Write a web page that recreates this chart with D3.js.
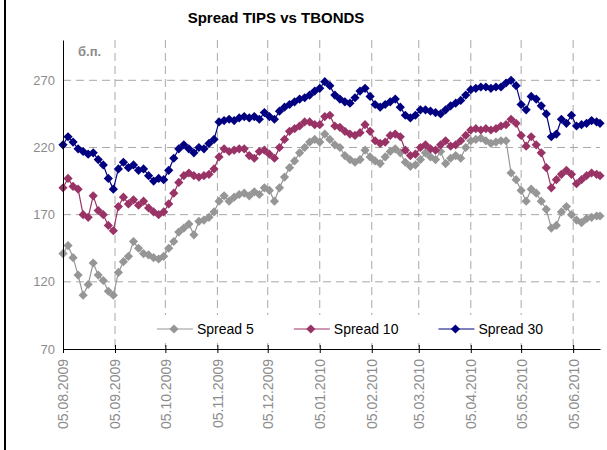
<!DOCTYPE html>
<html>
<head>
<meta charset="utf-8">
<script src="https://cdn.jsdelivr.net/npm/d3@7"></script>
<style>
body { margin: 0; background: #fff; }
svg { display: block; font-family: Arial, "Liberation Sans", sans-serif; }
</style>
</head>
<body>
<script>
// observation dates (roughly every third day)
var dates = [
  "05.08.2009","08.08.2009","11.08.2009","14.08.2009","17.08.2009","20.08.2009","23.08.2009","26.08.2009","29.08.2009",
  "01.09.2009","04.09.2009","07.09.2009","10.09.2009","13.09.2009","16.09.2009","19.09.2009","22.09.2009","25.09.2009","28.09.2009",
  "01.10.2009","04.10.2009","07.10.2009","10.10.2009","13.10.2009","16.10.2009","19.10.2009","22.10.2009","25.10.2009","28.10.2009","31.10.2009",
  "03.11.2009","06.11.2009","09.11.2009","12.11.2009","15.11.2009","18.11.2009","21.11.2009","24.11.2009","27.11.2009","30.11.2009",
  "03.12.2009","06.12.2009","09.12.2009","12.12.2009","15.12.2009","18.12.2009","21.12.2009","24.12.2009","27.12.2009","30.12.2009",
  "02.01.2010","05.01.2010","08.01.2010","11.01.2010","14.01.2010","17.01.2010","20.01.2010","23.01.2010","26.01.2010","29.01.2010",
  "01.02.2010","04.02.2010","07.02.2010","10.02.2010","13.02.2010","16.02.2010","19.02.2010","22.02.2010","25.02.2010","28.02.2010",
  "03.03.2010","06.03.2010","09.03.2010","12.03.2010","15.03.2010","18.03.2010","21.03.2010","24.03.2010","27.03.2010","30.03.2010",
  "02.04.2010","05.04.2010","08.04.2010","11.04.2010","14.04.2010","17.04.2010","20.04.2010","23.04.2010","26.04.2010","29.04.2010",
  "02.05.2010","05.05.2010","08.05.2010","11.05.2010","14.05.2010","17.05.2010","20.05.2010","23.05.2010","26.05.2010","29.05.2010",
  "01.06.2010","04.06.2010","07.06.2010","10.06.2010","13.06.2010","16.06.2010","19.06.2010","21.06.2010"
];

var spread5 = [
  141,147,138,125,110,118,134,125,121,113,
  110,127,135,139,150,145,141,140,138,137,
  139,145,150,157,160,163,155,165,166,168,
  172,180,184,180,183,185,186,184,187,185,
  190,188,180,190,198,205,210,216,220,224,
  226,224,230,226,222,220,214,211,209,211,
  218,213,210,208,213,217,219,216,209,206,
  207,211,216,213,211,217,208,212,214,212,
  220,225,226,227,225,223,224,225,225,201,
  196,188,180,189,186,180,174,160,162,172,
  176,170,166,164,167,168,169,169
];

var spread10 = [
  190,197,191,189,170,168,184,173,170,162,
  158,176,183,178,181,177,180,175,172,170,
  172,178,186,194,199,201,199,198,199,200,
  204,213,219,217,218,219,219,214,212,217,
  218,215,212,220,226,232,234,236,239,239,
  237,237,243,244,236,235,232,230,229,231,
  237,232,225,223,224,229,230,228,218,214,
  215,220,222,219,218,222,225,221,222,225,
  229,233,234,233,234,233,234,236,237,241,
  238,229,221,228,222,216,205,190,196,200,
  203,200,193,196,199,201,200,199
];

var spread30 = [
  222,228,224,219,217,215,216,211,207,197,
  189,204,209,205,207,203,204,199,195,197,
  196,203,212,219,222,219,216,220,219,223,
  226,239,240,241,240,242,243,242,243,241,
  246,243,241,247,250,252,254,256,257,259,
  262,264,269,266,259,256,254,253,257,262,
  264,258,252,250,252,254,256,250,244,242,
  244,248,248,247,246,245,248,251,253,255,
  259,263,264,265,265,264,265,265,268,270,
  266,252,248,258,256,251,245,228,230,241,
  238,244,236,237,238,240,239,238
];

var seriesNames = ["Spread 5", "Spread 10", "Spread 30"];
var seriesColors = ["#969696", "#993366", "#000080"];
var tickDates = ["05.08.2009","05.09.2009","05.10.2009","05.11.2009","05.12.2009","05.01.2010",
                 "05.02.2010","05.03.2010","05.04.2010","05.05.2010","05.06.2010"];
var yTicks = [70, 120, 170, 220, 270];

var svgWidth = 607;
var svgHeight = 450;

var margin = { top: 40, right: 7, bottom: 101, left: 63 };
var chartWidth = svgWidth - margin.left - margin.right;
var chartHeight = svgHeight - margin.top - margin.bottom;

var parseDate = d3.timeParse("%d.%m.%Y");
var formatDate = d3.timeFormat("%d.%m.%Y");

var svg = d3.select("body")
  .append("svg")
  .attr("width", svgWidth)
  .attr("height", svgHeight);

// left frame edge of the chart box
svg.append("line")
  .attr("x1", 5).attr("x2", 5)
  .attr("y1", 0).attr("y2", svgHeight)
  .attr("stroke", "#000")
  .attr("stroke-width", 2);

svg.append("text")
  .attr("x", 276)
  .attr("y", 23)
  .attr("text-anchor", "middle")
  .style("font-size", "15px")
  .style("font-weight", "bold")
  .text("Spread TIPS vs TBONDS");

var chartGroup = svg.append("g")
  .attr("transform", `translate(${margin.left}, ${margin.top})`);

var xTimeScale = d3.scaleTime()
  .domain([parseDate(dates[0]), parseDate(dates[dates.length - 1])])
  .range([0, chartWidth]);

var yLinearScale = d3.scaleLinear()
  .domain([70, 300])
  .range([chartHeight, 0]);

var tickValues = tickDates.map(parseDate);

// gridlines
chartGroup.append("g")
  .selectAll("line")
  .data(yTicks.slice(1))
  .enter()
  .append("line")
  .attr("x1", 0)
  .attr("x2", chartWidth)
  .attr("y1", d => yLinearScale(d))
  .attr("y2", d => yLinearScale(d))
  .attr("stroke", "#a8a8a8")
  .attr("stroke-dasharray", "8,5");

chartGroup.append("g")
  .selectAll("line")
  .data(tickValues.slice(1))
  .enter()
  .append("line")
  .attr("x1", d => xTimeScale(d))
  .attr("x2", d => xTimeScale(d))
  .attr("y1", 0)
  .attr("y2", chartHeight)
  .attr("stroke", "#a8a8a8")
  .attr("stroke-dasharray", "8,5");

// series
var allSeries = [spread5, spread10, spread30];
var diamond = "M0,-4.6L4.6,0L0,4.6L-4.6,0Z";

allSeries.forEach(function(values, i) {
  var points = values.map((v, j) => ({ date: parseDate(dates[j]), value: v }));

  var line = d3.line()
    .x(d => xTimeScale(d.date))
    .y(d => yLinearScale(d.value));

  chartGroup.append("path")
    .datum(points)
    .attr("d", line)
    .attr("fill", "none")
    .attr("stroke", seriesColors[i])
    .attr("stroke-width", 1.2);

  chartGroup.append("g")
    .selectAll("path")
    .data(points)
    .enter()
    .append("path")
    .attr("d", diamond)
    .attr("transform", d => `translate(${xTimeScale(d.date)}, ${yLinearScale(d.value)})`)
    .attr("fill", seriesColors[i]);
});

// legend
var legend = chartGroup.append("g")
  .attr("transform", "translate(94, 289)");

legend.append("rect")
  .attr("x", -8)
  .attr("y", -14)
  .attr("width", 400)
  .attr("height", 28)
  .attr("fill", "#fff");

var cursor = 0;
seriesNames.forEach(function(name, i) {
  var item = legend.append("g").attr("transform", `translate(${cursor}, 0)`);
  item.append("line")
    .attr("x1", 0).attr("x2", 36)
    .attr("stroke", seriesColors[i])
    .attr("stroke-width", 1.2);
  item.append("path")
    .attr("d", diamond)
    .attr("transform", "translate(17, 0)")
    .attr("fill", seriesColors[i]);
  var label = item.append("text")
    .attr("x", 40)
    .attr("dy", "0.35em")
    .style("font-size", "14px")
    .attr("fill", "#000")
    .text(name);
  cursor += 40 + label.node().getComputedTextLength() + 40;
});

// axes
var bottomAxis = d3.axisBottom(xTimeScale)
  .tickValues(tickValues)
  .tickFormat(formatDate)
  .tickSize(4)
  .tickSizeOuter(0);

var leftAxis = d3.axisLeft(yLinearScale)
  .tickValues(yTicks)
  .tickSize(0)
  .tickPadding(8);

var xAxisGroup = chartGroup.append("g")
  .classed("axis", true)
  .attr("transform", "translate(0, " + chartHeight + ")")
  .call(bottomAxis);

xAxisGroup.select(".domain").attr("stroke", "#000");
xAxisGroup.selectAll(".tick line").attr("y1", -4).attr("stroke", "#000");
xAxisGroup.selectAll(".tick text")
  .attr("transform", "translate(0, 10) rotate(-90)")
  .attr("text-anchor", "end")
  .attr("x", 0)
  .attr("y", 0)
  .attr("dy", "0.35em")
  .style("font-size", "14px")
  .style("font-family", "Arial, 'Liberation Sans', sans-serif")
  .attr("fill", "#8c8c8c");

var yAxisGroup = chartGroup.append("g")
  .classed("axis", true)
  .call(leftAxis);

yAxisGroup.select(".domain").attr("stroke", "#000");
yAxisGroup.selectAll(".tick text")
  .style("font-size", "13px")
  .style("font-family", "Arial, 'Liberation Sans', sans-serif")
  .attr("fill", "#8c8c8c");

chartGroup.append("text")
  .attr("x", 15)
  .attr("y", 16)
  .style("font-size", "13px")
  .style("font-weight", "bold")
  .attr("fill", "#8c8c8c")
  .text("б.п.");
</script>
</body>
</html>
